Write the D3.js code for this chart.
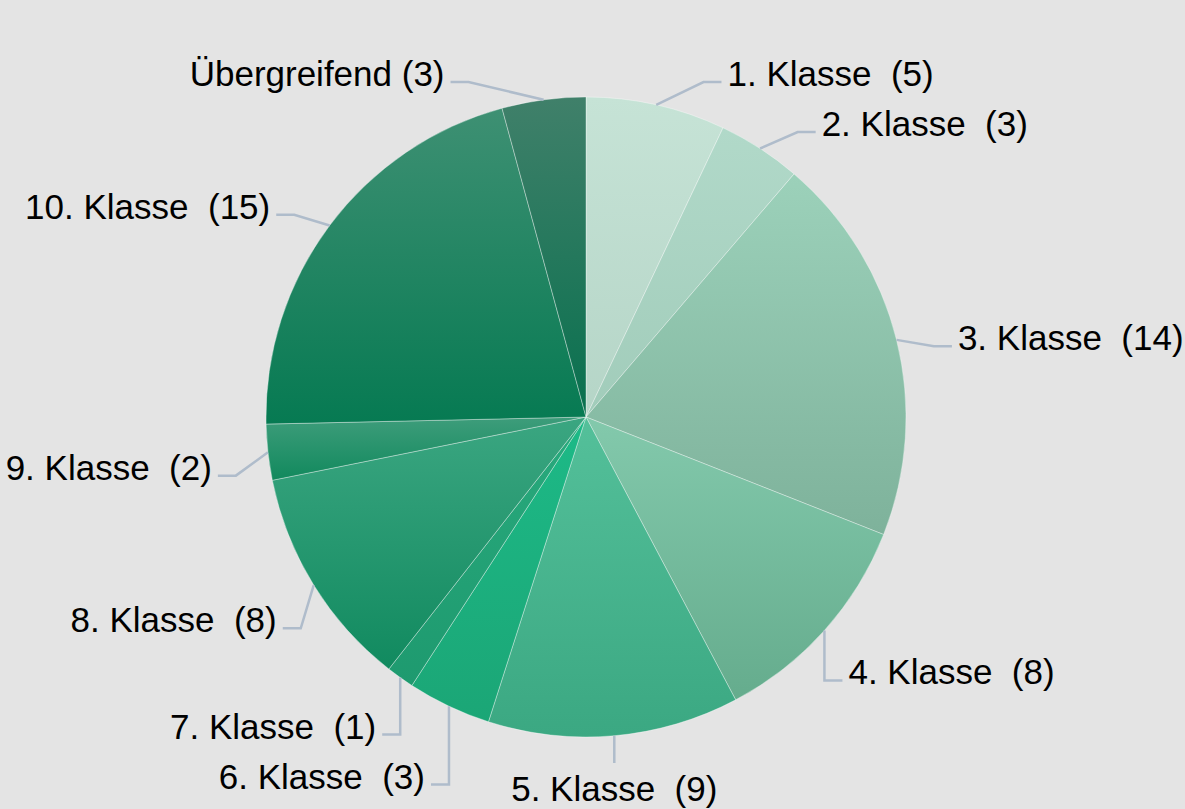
<!DOCTYPE html>
<html>
<head>
<meta charset="utf-8">
<script src="https://cdn.jsdelivr.net/npm/d3@7/dist/d3.min.js"></script>
<style>
  body { margin: 0; background: #e4e4e4; }
  svg { display: block; }
  .lbl { font-family: "Liberation Sans", Arial, sans-serif; font-size: 35px; fill: #000; white-space: pre; }
</style>
</head>
<body>
<svg id="chart" width="1185" height="809"></svg>
<script>
  // data
  var categories = ["1. Klasse", "2. Klasse", "3. Klasse", "4. Klasse", "5. Klasse", "6. Klasse",
                    "7. Klasse", "8. Klasse", "9. Klasse", "10. Klasse", "Übergreifend"];
  var counts = [5, 3, 14, 8, 9, 3, 1, 8, 2, 15, 3];
  var topColors    = ["#c6e3d6", "#b1d9c9", "#9cd1ba", "#83c9ac", "#54c09a", "#1dba87",
                      "#29aa7d", "#3ba681", "#3e9d7b", "#3e9073", "#40806a"];
  var bottomColors = ["#b5d5c7", "#a1ccba", "#7eb29b", "#65ac8d", "#3ba882", "#1ba676",
                      "#1e9a6f", "#118a5f", "#11895d", "#067a52", "#08704e"];

  var svg = d3.select('#chart');
  var cx = 586, cy = 417, radius = 320;

  var pie = d3.pie().sort(null).value(function(d) { return d; });
  var arc = d3.arc().innerRadius(0).outerRadius(radius);
  var arcs = pie(counts);

  var defs = svg.append('defs');
  arcs.forEach(function(d, i) {
    var g = defs.append('linearGradient')
      .attr('id', 'grad' + i)
      .attr('x1', 0).attr('y1', 0).attr('x2', 0).attr('y2', 1);
    g.append('stop').attr('offset', '0%').attr('stop-color', topColors[i]);
    g.append('stop').attr('offset', '100%').attr('stop-color', bottomColors[i]);
  });

  var pieGroup = svg.append('g').attr('transform', 'translate(' + cx + ',' + cy + ')');
  pieGroup.selectAll('path')
    .data(arcs)
    .enter()
    .append('path')
    .attr('d', arc)
    .attr('fill', function(d, i) { return 'url(#grad' + i + ')'; })
    .attr('stroke', 'rgba(255,255,255,0.35)')
    .attr('stroke-width', 1);

  // label layout (connector elbow on a circle outside the pie)
  var kY = 1.15, yBias = 18, minGap = 50, topMin = 82, elbowR = 355, hLen = 18, textPad = 6;

  var labels = arcs.map(function(d, i) {
    var mid = (d.startAngle + d.endAngle) / 2;
    var s = Math.sin(mid), c = Math.cos(mid);
    var ax = cx + radius * s, ay = cy - radius * c;
    var sep = categories[i].indexOf('Klasse') >= 0 ? '  ' : ' ';
    return {
      text: categories[i] + sep + '(' + counts[i] + ')',
      ax: ax, ay: ay,
      side: s >= 0 ? 1 : -1,
      bottom: Math.abs(s) < 0.15 && c < 0,
      ly: cy + kY * (ay - cy) + yBias
    };
  });

  [1, -1].forEach(function(side) {
    var list = labels.filter(function(l) { return l.side === side && !l.bottom; })
      .sort(function(a, b) { return a.ly - b.ly; });
    list.forEach(function(l, j) {
      if (l.ly < topMin) l.ly = topMin;
      if (j > 0 && l.ly < list[j - 1].ly + minGap) l.ly = list[j - 1].ly + minGap;
    });
  });

  var labelGroup = svg.append('g');
  labels.forEach(function(l) {
    var pts, tx, ty, anchor;
    if (l.bottom) {
      var by = cy + radius + 26;
      pts = [[l.ax, l.ay], [l.ax, by]];
      tx = l.ax; ty = by + 38; anchor = 'middle';
    } else {
      var dy = l.ly - cy;
      var ex = cx + l.side * Math.sqrt(Math.max(0, elbowR * elbowR - dy * dy));
      ex = l.side > 0 ? Math.max(ex, l.ax) : Math.min(ex, l.ax);
      var hx = ex + l.side * hLen;
      pts = [[l.ax, l.ay], [ex, l.ly], [hx, l.ly]];
      tx = hx + l.side * textPad; ty = l.ly + 4;
      anchor = l.side > 0 ? 'start' : 'end';
    }
    labelGroup.append('path')
      .attr('d', d3.line()(pts))
      .attr('fill', 'none')
      .attr('stroke', '#afbccb')
      .attr('stroke-width', 2.5);
    labelGroup.append('text')
      .attr('class', 'lbl')
      .attr('x', tx).attr('y', ty)
      .attr('text-anchor', anchor)
      .text(l.text);
  });
</script>
</body>
</html>
